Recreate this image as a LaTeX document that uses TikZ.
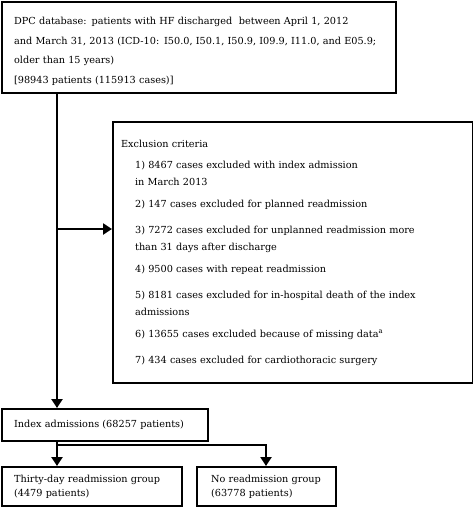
\documentclass[tikz,border=0pt]{standalone}
\usepackage{fontspec}
\setmainfont{DejaVu Serif}
\usetikzlibrary{arrows.meta}

\begin{document}
\begin{tikzpicture}[x=1pt,y=-1pt,
  box/.style={draw,line width=2.2pt,anchor=north west,align=left,inner ysep=0pt},
  link/.style={line width=2.2pt,-{Triangle[length=9pt,width=11pt]}}]
\useasboundingbox (0,0) rectangle (473,507);

\node[box,inner xsep=12pt,text width=370pt,minimum height=91pt,
  font=\fontsize{9.7}{19.7}\selectfont] (db) at (1,1)
  {\rule{0pt}{15pt}DPC database: patients with HF discharged\ \ between April 1, 2012\\
   and March 31, 2013 (ICD-10: I50.0, I50.1, I50.9, I09.9, I11.0, and E05.9;\\
   older than 15 years)\\
   {[}98943 patients (115913 cases){]}};

\node[box,inner xsep=8pt,text width=344pt,minimum height=261pt,
  font=\fontsize{9.7}{17}\selectfont] (excl) at (112,121)
  {Exclusion criteria\\[4pt]
   \hspace*{14pt}1) 8467 cases excluded with index admission\\
   \hspace*{14pt}in March 2013\\[5pt]
   \hspace*{14pt}2) 147 cases excluded for planned readmission\\[9pt]
   \hspace*{14pt}3) 7272 cases excluded for unplanned readmission more\\
   \hspace*{14pt}than 31 days after discharge\\[5pt]
   \hspace*{14pt}4) 9500 cases with repeat readmission\\[9pt]
   \hspace*{14pt}5) 8181 cases excluded for in-hospital death of the index\\
   \hspace*{14pt}admissions\\[5pt]
   \hspace*{14pt}6) 13655 cases excluded because of missing data\textsuperscript{a}\\[9pt]
   \hspace*{14pt}7) 434 cases excluded for cardiothoracic surgery};

\node[box,inner xsep=12pt,text width=182pt,minimum height=32pt,
  font=\fontsize{9.7}{14}\selectfont] (index) at (1,408)
  {Index admissions (68257 patients)};

\node[box,inner xsep=12pt,text width=156pt,minimum height=39pt,
  font=\fontsize{9.7}{14}\selectfont] (thirty) at (1,466)
  {Thirty-day readmission group\\(4479 patients)};
\node[box,inner xsep=14pt,text width=111pt,minimum height=39pt,
  font=\fontsize{9.7}{14}\selectfont] (noread) at (196,466)
  {No readmission group\\(63778 patients)};

\coordinate (split) at (57,229);
\coordinate (fork) at (57,445);
\coordinate (turn) at (266,445);

\draw[link] (db.south -| split) -- (index.north -| split);
\draw[link] (split) -- (split -| excl.west);
\draw[link] (index.south -| fork) -- (thirty.north -| fork);
\draw[link] (fork) -- (turn) -- (noread.north -| turn);
\end{tikzpicture}
\end{document}
